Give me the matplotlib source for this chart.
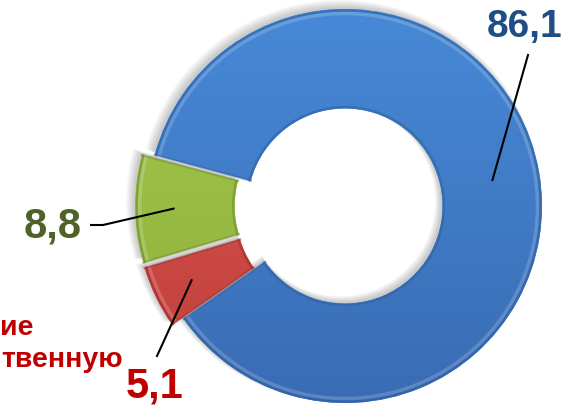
import matplotlib
matplotlib.use("Agg")
import matplotlib.pyplot as plt
import matplotlib.colors as mcolors
import matplotlib.patches as mpatches
import numpy as np

plt.rcParams['font.family'] = ['Liberation Sans', 'DejaVu Sans']

# Data
categories = ["Основная", "Прочие", "На собственную"]
values = [86.1, 8.8, 5.1]
value_labels = ["86,1", "8,8", "5,1"]

# Styles
top_colors = ["#4789D7", "#A6C94F", "#DC5852"]
bot_colors = ["#3A6CB4", "#8AAE38", "#BF3E39"]
edge_colors = ["#2F5F9F", "#6B8A28", "#962C28"]
label_colors = ["#1F4E84", "#4F6228", "#C00000"]
explode_frac = [0.0, 0.065, 0.065]

W, H = 569, 409
fig = plt.figure(figsize=(W / 100, H / 100), dpi=100)
ax = fig.add_axes([0, 0, 1, 1])

cx, cy, R = 345, 203, 197
ring_w = 0.505

wedges, _ = ax.pie(values, colors=top_colors, startangle=215, counterclock=True,
                   explode=[e * R for e in explode_frac], center=(cx, cy), radius=R,
                   wedgeprops=dict(width=R * ring_w, edgecolor="none", linewidth=0))

# soft shadow behind the slices
for w in wedges:
    for k in range(6):
        sh = mpatches.Wedge((w.center[0] - 2 - k * 0.6, w.center[1] + 2 + k * 0.6), w.r + k * 0.8,
                            w.theta1, w.theta2, width=w.width + 1.6 * k * 0.8,
                            facecolor="black", edgecolor="none", alpha=0.035, zorder=1)
        ax.add_patch(sh)

# gradient fill + bevel edges
for w, tc, bc, ec in zip(wedges, top_colors, bot_colors, edge_colors):
    w.set_zorder(2)
    c = w.center
    cmap = mcolors.LinearSegmentedColormap.from_list("g", [bc, tc])
    grad = np.linspace(0, 1, 256).reshape(-1, 1)
    im = ax.imshow(grad, cmap=cmap, origin="lower", aspect="auto",
                   extent=(c[0] - w.r, c[0] + w.r, c[1] - w.r, c[1] + w.r), zorder=2.5,
                   interpolation="bilinear")
    im.set_clip_path(w)
    th1, th2 = w.theta1, w.theta2
    r_out = w.r
    r_in = w.r - w.width
    t = np.radians(np.linspace(th1, th2, 300))
    ax.plot(c[0] + (r_out - 1.5) * np.cos(t), c[1] + (r_out - 1.5) * np.sin(t),
            color=ec, lw=1.6, alpha=0.55, zorder=3)
    ax.plot(c[0] + (r_out - 4.5) * np.cos(t), c[1] + (r_out - 4.5) * np.sin(t),
            color="white", lw=2.5, alpha=0.18, zorder=3)
    ax.plot(c[0] + (r_in + 1.5) * np.cos(t), c[1] + (r_in + 1.5) * np.sin(t),
            color=ec, lw=1.6, alpha=0.55, zorder=3)
    for th in (th1, th2):
        a = np.radians(th)
        ax.plot([c[0] + r_in * np.cos(a), c[0] + r_out * np.cos(a)],
                [c[1] + r_in * np.sin(a), c[1] + r_out * np.sin(a)],
                color=ec, lw=1.6, alpha=0.5, zorder=3)

# labels and leader lines
label_pos = [(525, 382), (53, 183), (155, 23)]
label_size = [28, 30, 30]
line_frac = [0.76, 0.80, 0.80]
line_end = [(528, 354), (90, 184), (157, 53)]
for w, lab, col, pos, fs, fr, le in zip(wedges, value_labels, label_colors, label_pos,
                                        label_size, line_frac, line_end):
    mid = np.radians((w.theta1 + w.theta2) / 2)
    c = w.center
    sx, sy = c[0] + fr * w.r * np.cos(mid), c[1] + fr * w.r * np.sin(mid)
    if lab == "8,8":
        ax.plot([sx, le[0] + 13, le[0]], [sy, le[1], le[1]], color="black", lw=1.5, zorder=4,
                solid_capstyle="butt")
    else:
        ax.plot([sx, le[0]], [sy, le[1]], color="black", lw=1.5, zorder=4)
    ax.text(pos[0], pos[1], lab, color=col, fontsize=fs, fontweight="bold",
            ha="center", va="center", zorder=5)

# partially visible category text on the left
ax.text(34, 74, "ие", color="#C00000", fontsize=20.5, fontweight="bold", ha="right", va="baseline")
ax.text(123, 42, "твенную", color="#C00000", fontsize=20.5, fontweight="bold", ha="right", va="baseline")

ax.set_xlim(0, W)
ax.set_ylim(0, H)
ax.set_aspect("equal")
ax.axis("off")
fig.savefig("out.png", dpi=100)
